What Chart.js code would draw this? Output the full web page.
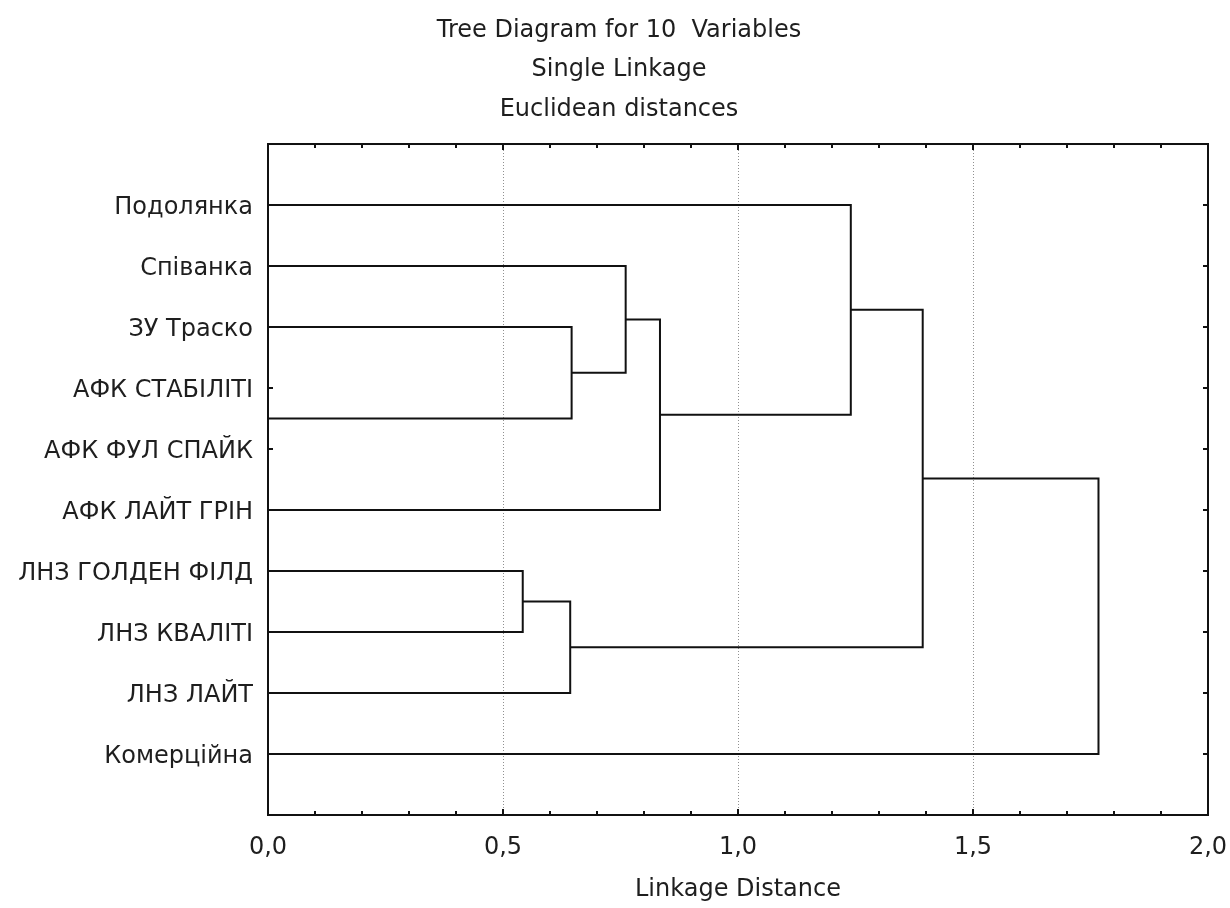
<!DOCTYPE html>
<html>
<head>
<meta charset="utf-8">
<script src="https://cdn.jsdelivr.net/npm/chart.js@4"></script>
<style>
html,body{margin:0;padding:0;background:#fff;}
#wrap{width:1230px;height:908px;}
</style>
</head>
<body>
<div id="wrap"><canvas id="c" width="1230" height="908"></canvas></div>
<script>
// ---- data ----
const titleLines = ['Tree Diagram for 10  Variables', 'Single Linkage', 'Euclidean distances'];
const axisTitle = 'Linkage Distance';
const leafLabels = [
  'Подолянка',
  'Співанка',
  'ЗУ Траско',
  'АФК СТАБІЛІТІ',
  'АФК ФУЛ СПАЙК',
  'АФК ЛАЙТ ГРІН',
  'ЛНЗ ГОЛДЕН ФІЛД',
  'ЛНЗ КВАЛІТІ',
  'ЛНЗ ЛАЙТ',
  'Комерційна'
];
// merges: leaves are 0..9, merge k creates node 10+k
const mergeLeft     = [3, 6, 11, 2, 1, 14, 0, 16, 17];
const mergeRight    = [4, 7, 8, 10, 13, 5, 15, 12, 9];
const mergeDistance = [0.0, 0.542, 0.643, 0.646, 0.761, 0.834, 1.240, 1.393, 1.767];
const xTickValues = [0, 0.5, 1.0, 1.5, 2.0];
const xTickLabels = ['0,0', '0,5', '1,0', '1,5', '2,0'];

// ---- build dendrogram line datasets ----
const nodePos = leafLabels.map((_, i) => i + 1);
const nodeHeight = leafLabels.map(() => 0);
const datasets = [];
mergeLeft.forEach((a, k) => {
  const b = mergeRight[k];
  const d = mergeDistance[k];
  datasets.push({
    data: [
      {x: nodeHeight[a], y: nodePos[a]},
      {x: d, y: nodePos[a]},
      {x: d, y: nodePos[b]},
      {x: nodeHeight[b], y: nodePos[b]}
    ],
    showLine: true,
    borderColor: '#111111',
    borderWidth: 2,
    pointRadius: 0,
    tension: 0,
    fill: false
  });
  nodePos.push((nodePos[a] + nodePos[b]) / 2);
  nodeHeight.push(d);
});

const FONT = 'DejaVu Sans';
const TXT = '#1e1e1e';

const framePlugin = {
  id: 'frame',
  afterLayout(chart) {
    // the reference title is centred slightly right of the canvas centre
    if (chart.titleBlock) chart.titleBlock.left += 30;
  },
  beforeDatasetsDraw(chart) {
    const {ctx, chartArea: a, scales: {x}} = chart;
    ctx.save();
    ctx.strokeStyle = '#909090';
    ctx.lineWidth = 1;
    ctx.setLineDash([1, 2]);
    xTickValues.forEach(v => {
      if (v <= x.min || v >= x.max) return;
      const px = Math.round(x.getPixelForValue(v)) + 0.5;
      ctx.beginPath();
      ctx.moveTo(px, a.top);
      ctx.lineTo(px, a.bottom);
      ctx.stroke();
    });
    ctx.restore();
  },
  afterDatasetsDraw(chart) {
    const {ctx, chartArea: a, scales: {x, y}} = chart;
    ctx.save();
    ctx.strokeStyle = '#111';
    ctx.lineWidth = 2;
    ctx.setLineDash([]);
    ctx.strokeRect(a.left, a.top, a.right - a.left, a.bottom - a.top);
    x.ticks.forEach(t => {
      const major = xTickValues.some(v => Math.abs(v - t.value) < 1e-6);
      const len = major ? 6 : 4;
      const px = Math.round(x.getPixelForValue(t.value));
      ctx.beginPath();
      ctx.moveTo(px, a.top); ctx.lineTo(px, a.top + len);
      ctx.moveTo(px, a.bottom); ctx.lineTo(px, a.bottom - len);
      ctx.stroke();
    });
    y.ticks.forEach(t => {
      if (t.value < 1 || t.value > leafLabels.length) return;
      const py = Math.round(y.getPixelForValue(t.value));
      ctx.beginPath();
      ctx.moveTo(a.left, py); ctx.lineTo(a.left + 5, py);
      ctx.moveTo(a.right, py); ctx.lineTo(a.right - 5, py);
      ctx.stroke();
    });
    ctx.restore();
  }
};

new Chart(document.getElementById('c'), {
  type: 'scatter',
  data: {datasets},
  plugins: [framePlugin],
  options: {
    responsive: false,
    animation: false,
    devicePixelRatio: 1,
    layout: {padding: {left: 0, right: 22, top: 0, bottom: 0}},
    plugins: {
      legend: {display: false},
      tooltip: {enabled: false},
      title: {
        display: true,
        text: titleLines,
        color: TXT,
        font: {family: FONT, size: 24, weight: 'normal', lineHeight: 1.646},
        padding: {top: 11, bottom: 14.5}
      }
    },
    scales: {
      x: {
        type: 'linear',
        min: 0,
        max: 2,
        grid: {display: true, color: 'rgba(0,0,0,0)', drawOnChartArea: false, drawTicks: true, tickLength: 18},
        border: {display: false},
        ticks: {
          stepSize: 0.1,
          autoSkip: false,
          maxRotation: 0,
          padding: 0,
          color: TXT,
          font: {family: FONT, size: 24},
          callback: (v) => {
            const i = xTickValues.findIndex(t => Math.abs(t - v) < 1e-6);
            return i >= 0 ? xTickLabels[i] : '';
          }
        },
        title: {
          display: true,
          text: axisTitle,
          color: TXT,
          font: {family: FONT, size: 24},
          padding: {top: 0, bottom: 4}
        },
        afterFit: (s) => { s.height = 93; }
      },
      y: {
        type: 'linear',
        min: 0,
        max: leafLabels.length + 1,
        reverse: true,
        grid: {display: true, color: 'rgba(0,0,0,0)', drawOnChartArea: false, drawTicks: true, tickLength: 15},
        border: {display: false},
        ticks: {
          stepSize: 1,
          autoSkip: false,
          padding: 0,
          labelOffset: 3,
          color: TXT,
          font: {family: FONT, size: 24},
          callback: (v) => leafLabels[v - 1] || ''
        },
        afterFit: (s) => { s.width = 268; }
      }
    }
  }
});
</script>
</body>
</html>
